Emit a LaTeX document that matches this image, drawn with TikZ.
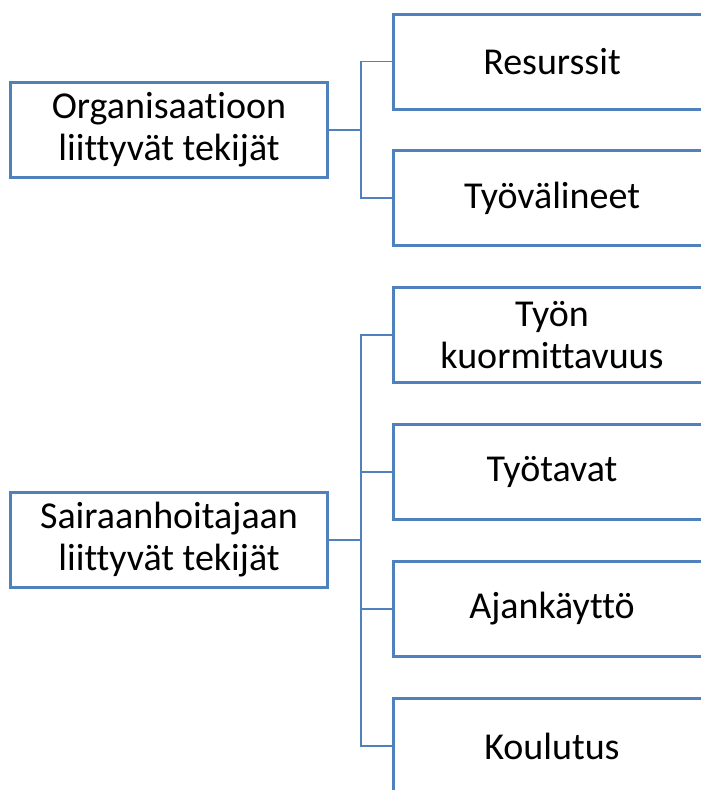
\documentclass[tikz,border=0pt]{standalone}
\usepackage{fontspec}
\setmainfont{Carlito}[Ligatures=NoCommon]
\definecolor{boxblue}{RGB}{79,129,189}
\tikzset{
  box/.style={draw=boxblue,line width=3pt,rectangle,minimum width=317pt,
    minimum height=95pt,inner sep=0pt,align=center,
    font=\fontsize{38}{42}\selectfont},
  conn/.style={draw=boxblue,line width=1.8pt}
}
\begin{document}
\begin{tikzpicture}[x=1pt,y=-1pt]
    %area della figura
    \useasboundingbox (0,0) rectangle (701,790);
    \clip (0,0) rectangle (701,790);
    %blocchi a sinistra
    \node[box] (org) at (169,130) {Organisaatioon\\liittyvät tekijät};
    \node[box] (sh) at (169,540) {Sairaanhoitajaan\\liittyvät tekijät};
    %blocchi a destra
    \node[box] (res) at (552,61.5) {Resurssit};
    \node[box] (tyov) at (552,198) {Työvälineet};
    \node[box] (kuorm) at (552,335) {Työn\\kuormittavuus};
    \node[box] (tavat) at (552,472) {Työtavat};
    \node[box] (ajank) at (552,609) {Ajankäyttö};
    \node[box] (koul) at (552,746) {Koulutus};
    %collegamenti organizzazione
    \draw[conn] (org.east) -- ++(32,0) coordinate (f1);
    \draw[conn] (f1) |- (res.west);
    \draw[conn] (f1) |- (tyov.west);
    %collegamenti infermiere
    \draw[conn] (sh.east) -- ++(32,0) coordinate (f2);
    \foreach \b in {kuorm,tavat,ajank,koul}
        \draw[conn] (f2) |- (\b.west);
\end{tikzpicture}
\end{document}
